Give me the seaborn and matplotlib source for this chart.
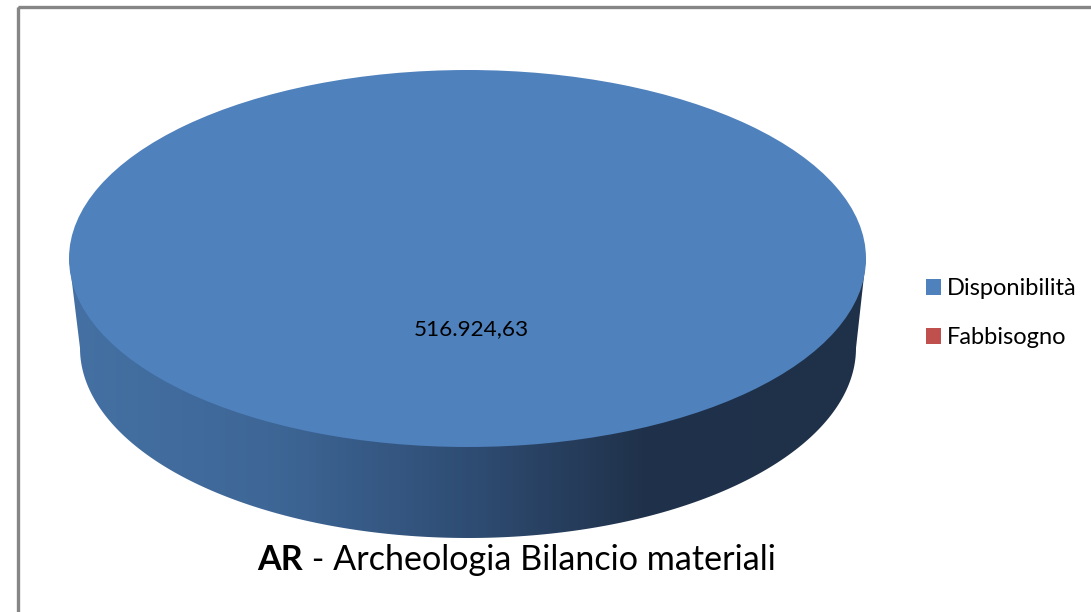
import numpy as np
import seaborn as sns
import matplotlib.pyplot as plt
from matplotlib.colors import LinearSegmentedColormap
from matplotlib.patches import Polygon, Rectangle

# Data
labels = ['Disponibilità', 'Fabbisogno']
values = [516924.63, 0]
value_label = '516.924,63'
title_bold = 'AR'
title_rest = ' - Archeologia Bilancio materiali'

sns.set_theme(style='white')
plt.rcParams['font.family'] = ['Lato', 'DejaVu Sans']
colors = ['#4f81bd', '#c0504d']

W, H = 1091, 612
fig = plt.figure(figsize=(W / 100, H / 100), dpi=100, facecolor='white')

# Full figure axes in pixels for the side wall, frame and texts
bg = fig.add_axes([0, 0, 1, 1])
bg.set_xlim(0, W)
bg.set_ylim(H, 0)
bg.axis('off')

# Frame (only left and top are visible)
bg.add_patch(Rectangle((17.5, 7), W, H, fill=False, ec='#868686', lw=2.4))

# Side of the disc, a horizontal gradient clipped to the outline
side_cmap = LinearSegmentedColormap.from_list(
    'side', [(0, '#4470a3'), (0.25, '#3e6797'), (0.5, '#2f4d74'), (0.72, '#20324b'), (1, '#1f3049')])
grad = np.linspace(0, 1, 400).reshape(1, -1)
im = bg.imshow(grad, cmap=side_cmap, extent=(69, 866, 538, 258), aspect='auto', zorder=1)
bg.set_xlim(0, W)
bg.set_ylim(H, 0)
theta = np.linspace(np.pi, 0, 200)
bottom = np.column_stack([468 + 388 * np.cos(theta), 348 + 190 * np.sin(theta)])
outline = np.vstack([[[69, 258]], bottom, [[866, 258]]])
im.set_clip_path(Polygon(outline, transform=bg.transData))

# Top of the disc, a pie squashed by its own axes
ax = fig.add_axes([69 / W, 1 - 447 / H, 797 / W, 377 / H], facecolor='none')
wedges, _ = ax.pie(values, colors=colors, radius=1, startangle=90, wedgeprops={'linewidth': 0})
ax.set_aspect('auto')
ax.set_xlim(-1, 1)
ax.set_ylim(-1, 1)
ax.set_zorder(2)

ax.text(471, 329, value_label, transform=bg.transData, ha='center', va='center', fontsize=16.2, color='black')

# Legend
fig.legend(wedges, labels, loc='upper left', bbox_to_anchor=(926 / W, 1 - 278 / H), frameon=False,
           fontsize=17, handlelength=0.64, handleheight=0.64, handletextpad=0.24, labelspacing=1.2,
           borderpad=0, borderaxespad=0, labelcolor='black')

# Title, bold part and regular part
t = bg.text(257, 560, title_bold, ha='left', va='center', fontsize=24.6, fontweight='bold', color='black', zorder=5)
fig.canvas.draw()
bb = t.get_window_extent()
bg.text(bb.x1, 560, title_rest, ha='left', va='center', fontsize=24.6, color='black', zorder=5)

fig.savefig('out.png', dpi=100)
